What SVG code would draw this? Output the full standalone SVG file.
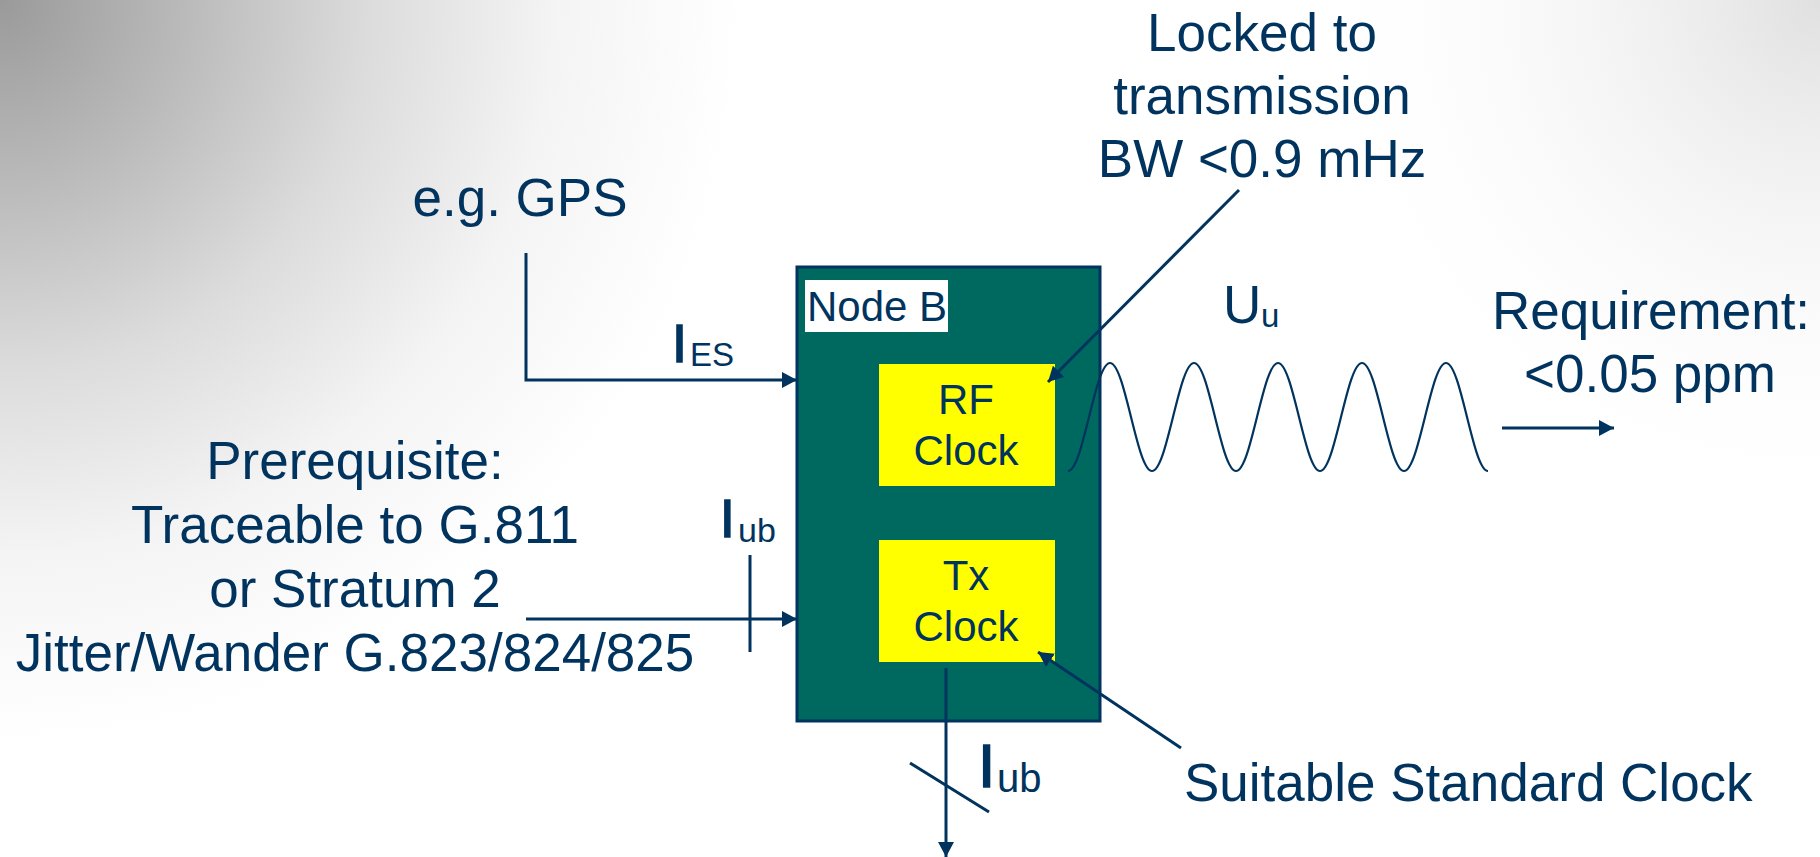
<svg xmlns="http://www.w3.org/2000/svg" width="1820" height="857" viewBox="0 0 1820 857">
<style>
.t{font-family:"Liberation Sans",Arial,sans-serif;fill:#00335E}
.big{font-size:53px}
.mid{font-size:42px}
.sub{font-size:33px}
.bar{stroke:#00335E;stroke-width:1.6}
.ln{stroke:#00335E;stroke-width:3;fill:none}
.thin{stroke:#00335E;stroke-width:2.2;fill:none}
</style>
<defs>
<radialGradient id="bg1" gradientUnits="userSpaceOnUse" cx="0" cy="0" r="740">
<stop offset="0" stop-color="#9a9a9a"/>
<stop offset="0.25" stop-color="#bababa"/>
<stop offset="0.5" stop-color="#dcdcdc"/>
<stop offset="0.75" stop-color="#f4f4f4"/>
<stop offset="1" stop-color="#ffffff"/>
</radialGradient>
<radialGradient id="bg2" gradientUnits="userSpaceOnUse" cx="1820" cy="0" r="520">
<stop offset="0" stop-color="#e0e0e0" stop-opacity="1"/>
<stop offset="1" stop-color="#ffffff" stop-opacity="0"/>
</radialGradient>
<marker id="ah" markerUnits="userSpaceOnUse" markerWidth="16" markerHeight="16" refX="15" refY="8" orient="auto">
<path d="M0,0 L15,8 L0,16 z" fill="#00335E"/>
</marker>
</defs>
<rect x="0" y="0" width="1820" height="857" fill="#ffffff"/>
<rect x="0" y="0" width="1820" height="857" fill="url(#bg1)"/>
<rect x="0" y="0" width="1820" height="857" fill="url(#bg2)"/>

<g id="nodeB">
<rect x="797" y="267" width="303" height="454" fill="#00695F" stroke="#00335E" stroke-width="3"/>
<rect x="805" y="280" width="143" height="52" fill="#ffffff"/>
<text class="t mid" x="807" y="321">Node B</text>
</g>
<g id="rfClock">
<rect x="879" y="364" width="176" height="122" fill="#FFFF00"/>
<text class="t mid" x="966" y="414" text-anchor="middle">RF</text>
<text class="t mid" x="966" y="465" text-anchor="middle">Clock</text>
</g>
<g id="txClock">
<rect x="879" y="540" width="176" height="122" fill="#FFFF00"/>
<text class="t mid" x="966" y="590" text-anchor="middle">Tx</text>
<text class="t mid" x="966" y="641" text-anchor="middle">Clock</text>
</g>

<g id="connectors">
<path class="ln" d="M526,253 V380 H797" marker-end="url(#ah)"/>
<path class="ln" d="M526,619 H797" marker-end="url(#ah)"/>
<path class="ln" d="M750,555 V652"/>
<path class="ln" d="M1239,190 L1048,382" marker-end="url(#ah)"/>
<path class="ln" d="M1181,748 L1038,652" marker-end="url(#ah)"/>
<path class="ln" d="M946,668 V857" marker-end="url(#ah)"/>
<path class="ln" d="M910,763 L989,812"/>
<path class="ln" d="M1502,428 H1614" marker-end="url(#ah)"/>
<path class="thin" d="M1068,471 c7.6,0 14.15,-26.34 21,-54 c6.85,-27.66 13.4,-54 21,-54 c7.6,0 14.15,26.34 21,54 c6.85,27.66 13.4,54 21,54 c7.6,0 14.15,-26.34 21,-54 c6.85,-27.66 13.4,-54 21,-54 c7.6,0 14.15,26.34 21,54 c6.85,27.66 13.4,54 21,54 c7.6,0 14.15,-26.34 21,-54 c6.85,-27.66 13.4,-54 21,-54 c7.6,0 14.15,26.34 21,54 c6.85,27.66 13.4,54 21,54 c7.6,0 14.15,-26.34 21,-54 c6.85,-27.66 13.4,-54 21,-54 c7.6,0 14.15,26.34 21,54 c6.85,27.66 13.4,54 21,54 c7.6,0 14.15,-26.34 21,-54 c6.85,-27.66 13.4,-54 21,-54 c7.6,0 14.15,26.34 21,54 c6.85,27.66 13.4,54 21,54"/>
</g>

<g id="labels">
<text class="t big" x="520" y="216" text-anchor="middle">e.g. GPS</text>
<text class="t big" x="1262" y="51" text-anchor="middle">Locked to</text>
<text class="t big" x="1262" y="114" text-anchor="middle">transmission</text>
<text class="t big" x="1262" y="177" text-anchor="middle">BW &lt;0.9 mHz</text>
<text class="t big" x="1651" y="329" text-anchor="middle">Requirement:</text>
<text class="t big" x="1650" y="392" text-anchor="middle">&lt;0.05 ppm</text>
<text class="t big" x="355" y="479" text-anchor="middle">Prerequisite:</text>
<text class="t big" x="355" y="543" text-anchor="middle">Traceable to G.811</text>
<text class="t big" x="355" y="607" text-anchor="middle">or Stratum 2</text>
<text class="t big" x="355" y="671" text-anchor="middle">Jitter/Wander G.823/824/825</text>
<text class="t big" x="1184" y="801">Suitable Standard Clock</text>
<text class="t bar" x="672" y="362" style="font-size:54px">I</text><text class="t sub" x="690" y="366">ES</text>
<text class="t bar" x="720" y="537" style="font-size:53px">I</text><text class="t" x="738" y="542" style="font-size:34px">ub</text>
<text class="t bar" x="978" y="787" style="font-size:62px">I</text><text class="t" x="997" y="792" style="font-size:40px">ub</text>
<text class="t big" x="1223" y="323">U</text><text class="t sub" x="1261" y="327">u</text>
</g>
</svg>
